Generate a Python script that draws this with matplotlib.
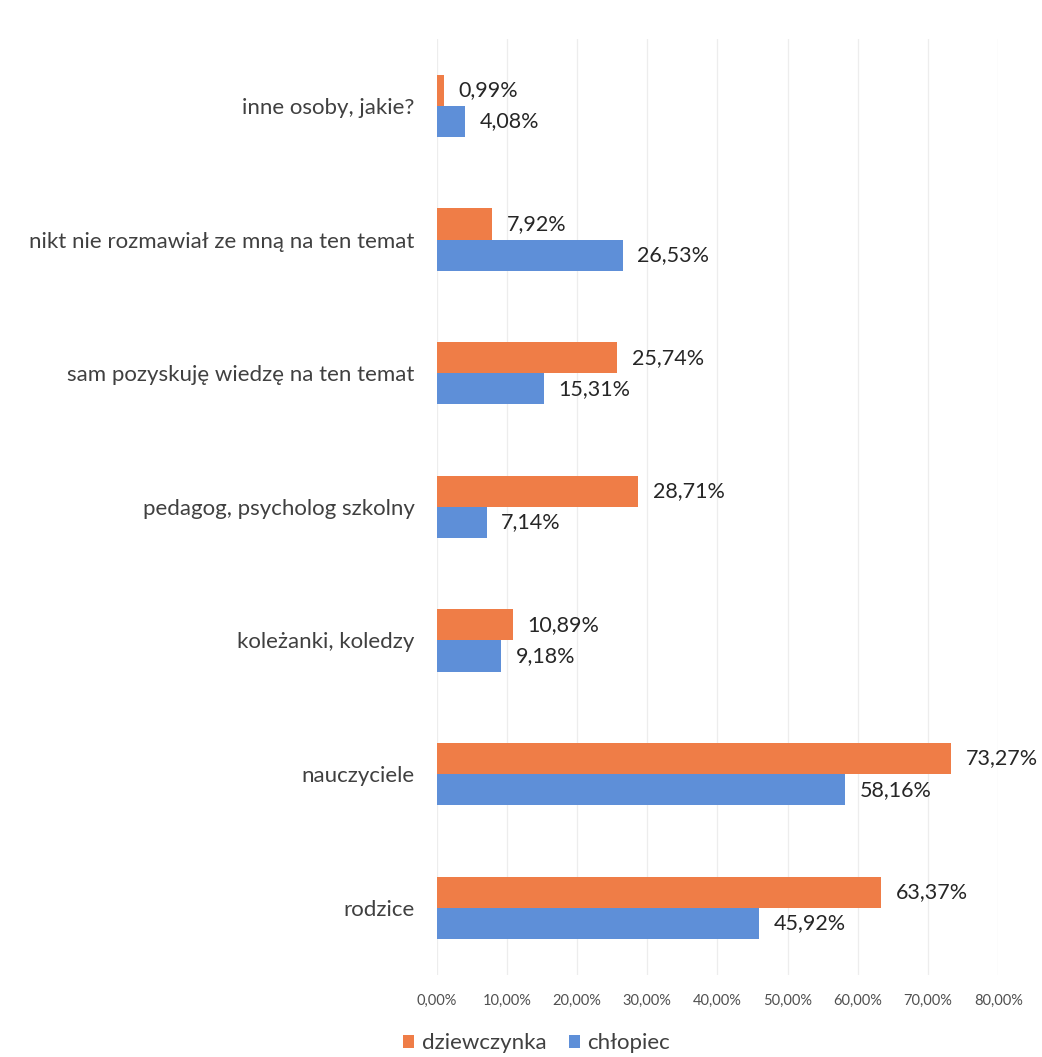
import matplotlib
matplotlib.use("Agg")
import matplotlib.pyplot as plt
import numpy as np

categories = ["rodzice", "nauczyciele", "koleżanki, koledzy", "pedagog, psycholog szkolny",
              "sam pozyskuję wiedzę na ten temat", "nikt nie rozmawiał ze mną na ten temat",
              "inne osoby, jakie?"]
girls = [63.37, 73.27, 10.89, 28.71, 25.74, 7.92, 0.99]
boys = [45.92, 58.16, 9.18, 7.14, 15.31, 26.53, 4.08]
series_names = ["dziewczynka", "chłopiec"]
ticks = [0, 10, 20, 30, 40, 50, 60, 70, 80]

c_girls = "#EF7D47"
c_boys = "#5E8FD8"

plt.rcParams['font.family'] = ['Lato', 'DejaVu Sans']

fig = plt.figure(figsize=(10.42, 10.57), dpi=100)
ax = fig.add_axes([0.419, 0.078, 0.539, 0.885])

y = np.arange(len(categories))
h = 0.233
ax.barh(y + h / 2, girls, height=h, color=c_girls, label=series_names[0])
ax.barh(y - h / 2, boys, height=h, color=c_boys, label=series_names[1])

def fmt(v):
    return f"{v:.2f}%".replace(".", ",")

for yi, g, b in zip(y, girls, boys):
    ax.annotate(fmt(g), (g, yi + h / 2), xytext=(10.5, 0), textcoords="offset points",
                va="center", ha="left", fontsize=15.5, color="#262626")
    ax.annotate(fmt(b), (b, yi - h / 2), xytext=(10.5, 0), textcoords="offset points",
                va="center", ha="left", fontsize=15.5, color="#262626")

ax.set_xlim(0, 80)
ax.set_ylim(-0.5, len(categories) - 0.5)
ax.set_xticks(ticks)
ax.set_xticklabels([f"{t:.2f}%".replace(".", ",") for t in ticks], fontsize=10.5, color="#505050")
ax.set_yticks(y)
ax.set_yticklabels(categories, fontsize=16, color="#404040")
ax.tick_params(axis="both", length=0)
ax.tick_params(axis="y", pad=16)
ax.tick_params(axis="x", pad=14)
ax.xaxis.grid(True, color="#EDEDED", linewidth=0.9)
ax.set_axisbelow(True)
for s in ax.spines.values():
    s.set_visible(False)

handles, labels = ax.get_legend_handles_labels()
fig.legend(handles, labels, loc="center", bbox_to_anchor=(0.515, 0.013), ncol=2,
           frameon=False, fontsize=16, handlelength=0.5, handleheight=0.5,
           handletextpad=0.35, columnspacing=1.0, labelcolor="#404040")

fig.savefig("out.png", dpi=100, facecolor="white")
